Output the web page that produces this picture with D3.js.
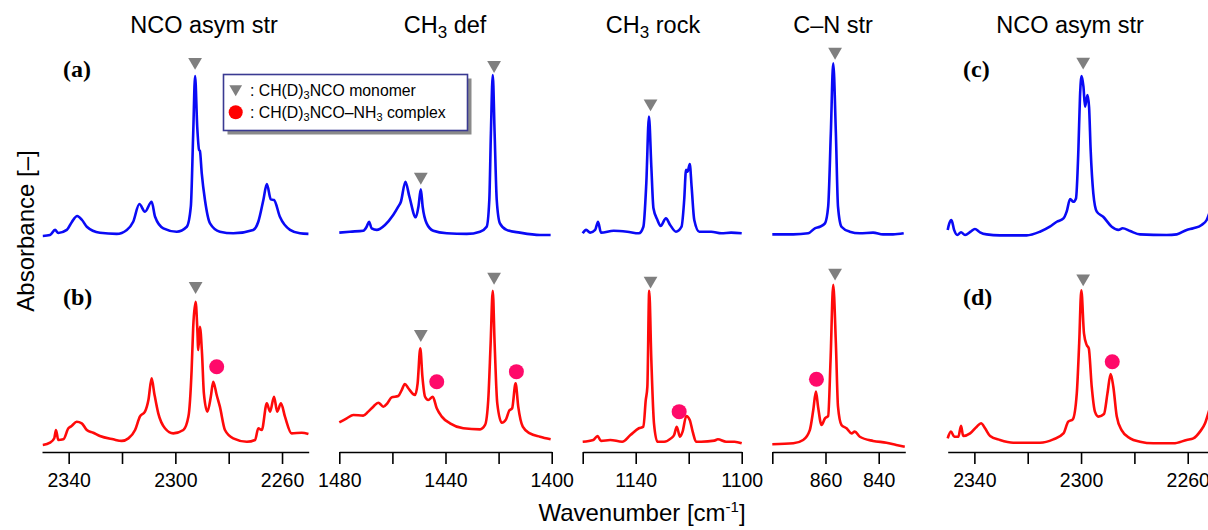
<!DOCTYPE html>
<meta charset="utf-8">
<style>
body { margin: 0; background: #fff; }
svg { display: block; font-family: "Liberation Sans", Arial, sans-serif; }
.title { font-size: 23.5px; text-anchor: middle; fill: #000; }
.tag { font-family: "Liberation Serif", "Times New Roman", serif; font-weight: bold; font-size: 24px; }
.axis path, .axis line { stroke: #000; stroke-width: 1.6; }
.axis text { font-size: 19.5px; font-family: "Liberation Sans", Arial, sans-serif; fill: #000; }
.spec { fill: none; stroke-width: 2.6; stroke-linejoin: round; }
.legend text { font-size: 15.8px; }
.big { font-size: 24px; }
</style>
<svg width="1208" height="530"></svg>
<script src="https://cdn.jsdelivr.net/npm/d3@7"></script>
<script>

// spectra, [wavenumber cm-1, absorbance (arb.)]
var nco_a = [[2349.7,0.0],[2347.0,0.006],[2345.1,0.038],[2343.9,0.019],[2340.7,0.038],[2338.8,0.088],[2336.8,0.125],[2335.0,0.1],[2333.2,0.058],[2328.3,0.02],[2322.0,0.013],[2318.2,0.038],[2315.8,0.089],[2313.5,0.2],[2311.4,0.152],[2308.9,0.214],[2307.6,0.12],[2304.5,0.048],[2299.5,0.027],[2295.7,0.058],[2294.2,0.183],[2293.3,0.644],[2292.6,1.0],[2291.8,0.683],[2291.1,0.538],[2290.8,0.533],[2290.1,0.392],[2288.9,0.225],[2287.0,0.079],[2283.3,0.027],[2278.3,0.017],[2270.8,0.038],[2268.9,0.089],[2267.0,0.225],[2265.7,0.325],[2264.2,0.229],[2263.0,0.225],[2260.8,0.12],[2257.0,0.038],[2253.3,0.017],[2250.1,0.013]];
var nco_b = [[2349.7,0.013],[2347.0,0.027],[2345.4,0.055],[2344.75,0.106],[2343.9,0.044],[2342.0,0.048],[2340.1,0.117],[2338.9,0.131],[2337.0,0.158],[2335.1,0.148],[2333.2,0.106],[2330.8,0.089],[2328.3,0.069],[2323.3,0.048],[2320.1,0.038],[2317.6,0.054],[2315.1,0.106],[2313.3,0.19],[2311.4,0.221],[2310.1,0.294],[2308.9,0.429],[2307.9,0.335],[2306.4,0.21],[2303.9,0.117],[2300.8,0.085],[2297.0,0.106],[2295.1,0.19],[2293.9,0.48],[2293.3,0.752],[2292.4,0.908],[2291.8,0.752],[2291.4,0.606],[2290.8,0.752],[2290.0,0.585],[2289.3,0.335],[2288.0,0.221],[2286.7,0.314],[2285.8,0.408],[2284.5,0.325],[2283.3,0.252],[2281.4,0.106],[2278.3,0.054],[2273.2,0.033],[2270.1,0.044],[2268.9,0.117],[2267.6,0.106],[2265.7,0.273],[2264.5,0.221],[2263.0,0.314],[2261.8,0.221],[2260.4,0.273],[2258.9,0.19],[2256.4,0.085],[2252.6,0.089],[2250.1,0.081]];
var def_a = [[1480,0.021],[1476.0,0.027],[1471.0,0.033],[1469.7,0.058],[1468.8,0.089],[1467.8,0.048],[1465.9,0.038],[1462.8,0.069],[1459.7,0.131],[1457.8,0.183],[1456.8,0.214],[1455.1,0.339],[1453.6,0.246],[1451.2,0.117],[1450.2,0.183],[1449.3,0.292],[1448.6,0.183],[1447.1,0.079],[1444.6,0.033],[1439.5,0.017],[1432.0,0.013],[1427.0,0.027],[1424.5,0.058],[1423.5,0.225],[1422.9,0.642],[1422.2,1.006],[1421.5,0.642],[1420.7,0.225],[1419.5,0.079],[1417.0,0.038],[1412.0,0.021],[1404.4,0.006],[1400.4,0.006]];
var def_b = [[1480,0.154],[1477.2,0.179],[1474.7,0.2],[1471.0,0.196],[1469.1,0.221],[1467.2,0.252],[1465.3,0.277],[1463.4,0.252],[1461.9,0.273],[1460.3,0.31],[1457.8,0.319],[1456.5,0.356],[1455.3,0.394],[1454.0,0.367],[1451.5,0.325],[1450.5,0.398],[1449.5,0.617],[1448.7,0.44],[1447.7,0.314],[1446.5,0.294],[1444.8,0.314],[1443.3,0.242],[1441.4,0.19],[1438.3,0.148],[1433.3,0.117],[1427.0,0.11],[1425.1,0.138],[1423.9,0.294],[1423.0,0.648],[1422.2,0.977],[1421.5,0.648],[1420.5,0.273],[1418.8,0.152],[1417.2,0.173],[1416.0,0.227],[1414.9,0.242],[1413.6,0.398],[1412.6,0.252],[1410.9,0.127],[1408.2,0.085],[1404.4,0.064],[1400.4,0.048]];
var rock_a = [[1160,0.017],[1158.7,0.038],[1157.2,0.021],[1155.3,0.038],[1154.2,0.089],[1153.1,0.021],[1148.3,0.033],[1143.2,0.027],[1138.8,0.017],[1137.1,0.058],[1136.0,0.329],[1135.0,0.746],[1134.1,0.433],[1133.3,0.173],[1131.8,0.1],[1130.6,0.063],[1128.6,0.11],[1127.0,0.069],[1124.8,0.027],[1122.7,0.058],[1121.7,0.225],[1121.0,0.413],[1120.4,0.402],[1119.6,0.45],[1118.9,0.308],[1117.9,0.1],[1116.0,0.027],[1111.5,0.027],[1107.7,0.017],[1104.0,0.021],[1100,0.017]];
var rock_b = [[1160,0.033],[1156.0,0.044],[1154.4,0.069],[1153.1,0.038],[1149.6,0.044],[1145.1,0.033],[1142.0,0.075],[1138.8,0.117],[1137.1,0.127],[1136.2,0.294],[1135.6,0.377],[1134.9,0.977],[1134.1,0.544],[1133.1,0.148],[1131.8,0.033],[1129.3,0.033],[1126.7,0.054],[1125.5,0.075],[1124.5,0.127],[1123.3,0.064],[1122.3,0.096],[1120.9,0.194],[1119.6,0.169],[1118.5,0.096],[1117.2,0.033],[1115.3,0.033],[1110.3,0.04],[1109.0,0.048],[1105.9,0.033],[1102.7,0.033],[1100,0.023]];
var cn_a = [[880,0.01],[872.1,0.01],[866.5,0.017],[864.0,0.048],[862.1,0.058],[860.2,0.079],[859.0,0.183],[858.0,0.642],[857.1,1.08],[856.1,0.642],[855.3,0.183],[854.0,0.058],[850.9,0.027],[847.1,0.017],[842.1,0.021],[838.4,0.01],[834.6,0.01],[830.6,0.017]];
var cn_b = [[880,0.017],[872.1,0.023],[868.4,0.044],[865.9,0.106],[864.6,0.231],[863.6,0.346],[862.8,0.252],[861.5,0.138],[860.2,0.179],[859.0,0.194],[858.1,0.544],[857.1,1.013],[856.1,0.648],[855.3,0.252],[854.0,0.138],[852.1,0.117],[850.2,0.085],[849.0,0.096],[847.1,0.064],[842.1,0.038],[837.1,0.027],[833.4,0.013],[830.2,0.002]];
var nco_c = [[2350,0.038],[2349.4,0.079],[2348.6,0.1],[2347.6,0.038],[2346.4,0.006],[2345.0,0.023],[2343.5,0.006],[2341.4,0.027],[2339.8,0.044],[2337.9,0.023],[2335.4,0.01],[2330.4,0.004],[2320.4,0.004],[2315.4,0.027],[2311.7,0.058],[2309.1,0.089],[2306.6,0.11],[2305.4,0.152],[2304.1,0.231],[2302.9,0.214],[2301.9,0.235],[2301.0,0.538],[2300.4,0.87],[2299.8,1.0],[2299.1,0.933],[2298.5,0.808],[2297.6,0.881],[2297.0,0.808],[2296.4,0.538],[2295.4,0.267],[2294.1,0.152],[2291.7,0.12],[2288.5,0.058],[2286.0,0.038],[2284.4,0.048],[2281.6,0.031],[2277.9,0.01],[2267.9,0.006],[2264.1,0.01],[2260.4,0.038],[2257.9,0.048],[2254.8,0.069],[2252.9,0.1],[2250.5,0.22]];
var nco_d = [[2350,0.054],[2348.8,0.096],[2347.5,0.064],[2346.0,0.064],[2345.0,0.133],[2344.2,0.069],[2341.6,0.085],[2339.1,0.127],[2337.5,0.148],[2336.0,0.117],[2334.1,0.069],[2330.4,0.044],[2325.4,0.027],[2315.4,0.027],[2310.4,0.048],[2306.6,0.085],[2304.8,0.158],[2303.1,0.173],[2301.6,0.335],[2300.7,0.648],[2299.9,0.98],[2298.9,0.71],[2297.9,0.638],[2297.1,0.617],[2296.0,0.377],[2294.8,0.221],[2293.5,0.19],[2291.4,0.206],[2290.1,0.335],[2288.9,0.456],[2287.9,0.377],[2286.6,0.19],[2284.8,0.106],[2281.6,0.054],[2277.9,0.033],[2272.9,0.023],[2265.4,0.023],[2260.4,0.044],[2257.9,0.054],[2255.4,0.096],[2253.5,0.148],[2252.3,0.21],[2250.3,0.33]];

// markers: [panel, wavenumber, height]
var monomerTop = [[0,2292.6,1.088],[1,1449.3,0.37],[1,1421.7,1.069],[2,1134.4,0.829],[3,856.4,1.152],[4,2299.2,1.09]];
var monomerBot = [[0,2292.4,1.006],[1,1449.3,0.706],[1,1421.7,1.064],[2,1134.4,1.04],[3,856.4,1.09],[4,2299.2,1.054]];
var complexBot = [[0,2284.5,0.502],[1,1443.3,0.408],[1,1413.3,0.471],[2,1123.6,0.221],[3,863.4,0.423],[4,2288.3,0.533]];

var titles = ["NCO asym str", "CH|3| def", "CH|3| rock", "C\u2013N str", "NCO asym str"];
var tickVals = [[2340,2320,2300,2280,2260],[1480,1460,1440,1420,1400],[1160,1140,1120,1100],[880,860,840],[2340,2320,2300,2280,2260]];
var tickLabels = [[2340,2300,2260],[1480,1440,1400],[1140,1100],[860,840],[2340,2300,2260]];

var svg = d3.select("svg");

var panels = [
  {dom: [2350, 2250], r: [42, 308.7], tx: 204, top: nco_a, bot: nco_b},
  {dom: [1480, 1400], r: [339.3, 551.7], tx: 445, top: def_a, bot: def_b},
  {dom: [1160, 1100], r: [582.7, 741.7], tx: 653, top: rock_a, bot: rock_b},
  {dom: [880, 830], r: [772.3, 905.3], tx: 833, top: cn_a, bot: cn_b},
  {dom: [2350, 2250], r: [947.7, 1214.4], tx: 1070, top: nco_c, bot: nco_d}
];
panels.forEach(function(p) { p.x = d3.scaleLinear().domain(p.dom).range(p.r); });

var yTop = d3.scaleLinear().domain([0, 1]).range([236, 76]),
    yBot = d3.scaleLinear().domain([0, 1]).range([447, 287]);

// writes "A|3|B" with the 3 as subscript (shift in px)
function subText(sel, str, sub, shift) {
  str.split("|").forEach(function(s, i) {
    var t = sel.append("tspan").text(s);
    if (i % 2 == 1) t.attr("font-size", sub).attr("dy", shift);
    else if (i > 0) t.attr("dy", -shift);
  });
}

panels.forEach(function(p, i) {
  var line = function(y) {
    return d3.line().x(function(d) { return p.x(d[0]); }).y(function(d) { return y(d[1]); }).curve(d3.curveMonotoneX);
  };
  svg.append("path").datum(p.top).attr("class", "spec").attr("stroke", "#0a0af5").attr("d", line(yTop));
  svg.append("path").datum(p.bot).attr("class", "spec").attr("stroke", "#ff0a0a").attr("d", line(yBot));

  var ax = d3.axisBottom(p.x)
      .tickValues(tickVals[i])
      .tickSize(12).tickSizeOuter(0).tickPadding(9)
      .tickFormat(function(d) { return tickLabels[i].indexOf(d) >= 0 ? d : ""; });
  svg.append("g").attr("class", "axis").attr("transform", "translate(0,452)").call(ax);

  var t = svg.append("text").attr("class", "title").attr("x", p.tx).attr("y", 33);
  subText(t, titles[i], "17px", 5);
});

var tri = d3.symbol().type(d3.symbolTriangle).size(82);
function drawTri(data, y) {
  svg.selectAll(null).data(data).enter().append("path")
      .attr("d", tri)
      .attr("fill", "#7f7f7f")
      .attr("transform", function(d) { return "translate(" + panels[d[0]].x(d[1]) + "," + y(d[2]) + ") rotate(180)"; });
}
drawTri(monomerTop, yTop);
drawTri(monomerBot, yBot);

svg.selectAll(null).data(complexBot).enter().append("circle")
    .attr("cx", function(d) { return panels[d[0]].x(d[1]); })
    .attr("cy", function(d) { return yBot(d[2]); })
    .attr("r", 7.5)
    .attr("fill", "#ff0a6a");

// panel tags
[["(a)", 63, 77], ["(b)", 63, 305], ["(c)", 963, 77], ["(d)", 963, 305]].forEach(function(d) {
  svg.append("text").attr("class", "tag").attr("x", d[1]).attr("y", d[2]).text(d[0]);
});

// legend
var lg = svg.append("g").attr("class", "legend");
lg.append("rect").attr("x", 227.5).attr("y", 78.5).attr("width", 244).attr("height", 56).attr("fill", "#8a8a8a");
lg.append("rect").attr("x", 223.5).attr("y", 74.5).attr("width", 244).attr("height", 56)
    .attr("fill", "#fff").attr("stroke", "#3a3a92").attr("stroke-width", 1.6);
lg.append("path").attr("d", d3.symbol().type(d3.symbolTriangle).size(70))
    .attr("fill", "#7f7f7f").attr("transform", "translate(235.7,89) rotate(180)");
lg.append("circle").attr("cx", 235.7).attr("cy", 112.3).attr("r", 7).attr("fill", "#ff0000");
subText(lg.append("text").attr("x", 250).attr("y", 95.5), ": CH(D)|3|NCO monomer", "11px", 3);
subText(lg.append("text").attr("x", 250).attr("y", 118), ": CH(D)|3|NCO\u2013NH|3| complex", "11px", 3);

// axis titles
svg.append("text").attr("class", "big").attr("text-anchor", "middle")
    .attr("transform", "translate(33.5,231) rotate(-90)")
    .text("Absorbance [\u2013]");
var wl = svg.append("text").attr("class", "big").attr("text-anchor", "middle").attr("x", 642).attr("y", 521);
wl.append("tspan").text("Wavenumber [cm");
wl.append("tspan").attr("font-size", "15px").attr("dy", "-9").text("-1");
wl.append("tspan").attr("dy", "9").text("]");

</script>
